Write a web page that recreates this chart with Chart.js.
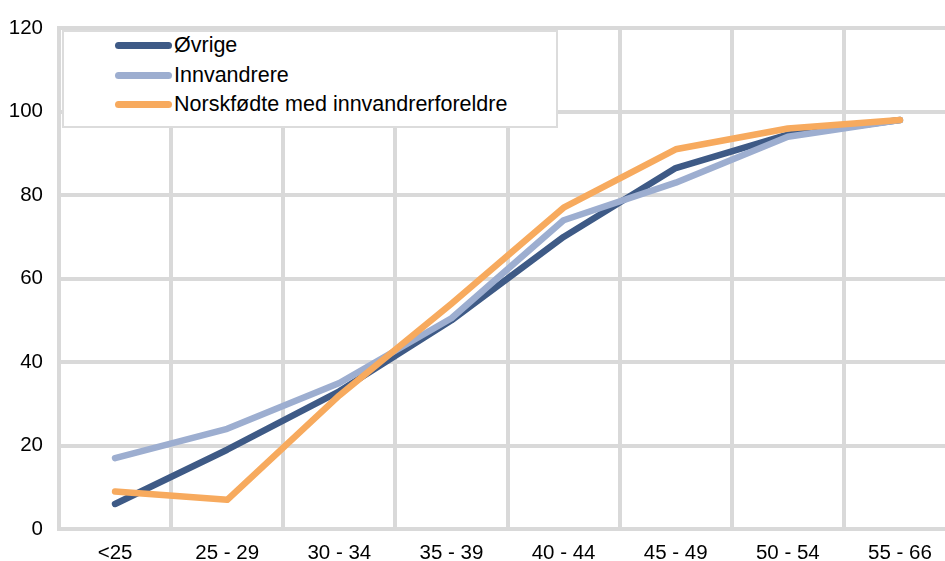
<!DOCTYPE html>
<html>
<head>
<meta charset="utf-8">
<script src="https://cdn.jsdelivr.net/npm/chart.js@4.4.1/dist/chart.umd.min.js"></script>
<style>
  html, body { margin: 0; padding: 0; background: #fff; overflow: hidden; width: 945px; height: 561px; }
  #wrap { position: relative; width: 960px; height: 561px; }
  #legend {
    position: absolute; left: 62px; top: 30px; width: 496px; height: 98px;
    border: 2px solid #dcdcdc; background: #fff; box-sizing: border-box;
    font-family: "Liberation Sans", Arial, sans-serif; font-size: 21.5px; color: #000;
  }
  .item { position: absolute; left: 51px; height: 24px; line-height: 24px; white-space: nowrap; }
  .sw { display: inline-block; width: 57px; height: 7px; border-radius: 4px; vertical-align: middle; margin-right: 2px; position: relative; top: -1px; }
</style>
</head>
<body>
<div id="wrap">
  <canvas id="c" width="960" height="561"></canvas>
  <div id="legend"></div>
</div>
<script>
const categories = ["<25", "25 - 29", "30 - 34", "35 - 39", "40 - 44", "45 - 49", "50 - 54", "55 - 66"];
const ovrige = [6, 19, 33, 50, 70, 86.5, 94.5, 98];
const innvandrere = [17, 24, 35, 50.5, 74, 83, 94, 98];
const norskfodte = [9, 7, 32, 54, 77, 91, 96, 98];
const seriesNames = ["Øvrige", "Innvandrere", "Norskfødte med innvandrerforeldre"];
const seriesColors = ["#3e5a86", "#9daed0", "#f7aa5e"];
const yTicks = [0, 20, 40, 60, 80, 100, 120];

const FONT = "'Liberation Sans', Arial, sans-serif";

const seriesData = [ovrige, innvandrere, norskfodte];
const datasets = seriesData.map((d, i) => ({
  label: seriesNames[i],
  data: d,
  borderColor: seriesColors[i],
  backgroundColor: seriesColors[i],
  borderWidth: 6.5,
  pointRadius: 0,
  tension: 0,
  borderCapStyle: 'round',
  borderJoinStyle: 'round',
  order: 2 - i
}));

new Chart(document.getElementById('c'), {
  type: 'line',
  data: { labels: categories, datasets },
  options: {
    responsive: false,
    animation: false,
    events: [],
    layout: { padding: { top: 25, right: 4, left: 0, bottom: 0 } },
    plugins: { legend: { display: false }, tooltip: { enabled: false } },
    scales: {
      x: {
        offset: true,
        grid: { offset: true, color: '#d9d9d9', lineWidth: 4, drawTicks: false },
        border: { color: '#d9d9d9', width: 4 },
        ticks: { color: '#000', font: { family: FONT, size: 20.5 }, padding: 12, maxRotation: 0, autoSkip: false },
        afterFit: s => { s.height = 32; }
      },
      y: {
        min: 0, max: 120,
        afterBuildTicks: s => { s.ticks = yTicks.map(v => ({ value: v })); },
        grid: { color: '#d9d9d9', lineWidth: 4, drawTicks: false },
        border: { color: '#d9d9d9', width: 4 },
        ticks: { color: '#000', font: { family: FONT, size: 20.5 }, padding: 16 },
        afterFit: s => { s.width = 59; }
      }
    }
  }
});

const leg = document.getElementById('legend');
seriesNames.forEach((n, i) => {
  const it = document.createElement('div');
  it.className = 'item';
  it.style.top = (1 + i * 29.7) + 'px';
  const sw = document.createElement('span');
  sw.className = 'sw';
  sw.style.background = seriesColors[i];
  it.appendChild(sw);
  it.appendChild(document.createTextNode(n));
  leg.appendChild(it);
});
</script>
</body>
</html>
